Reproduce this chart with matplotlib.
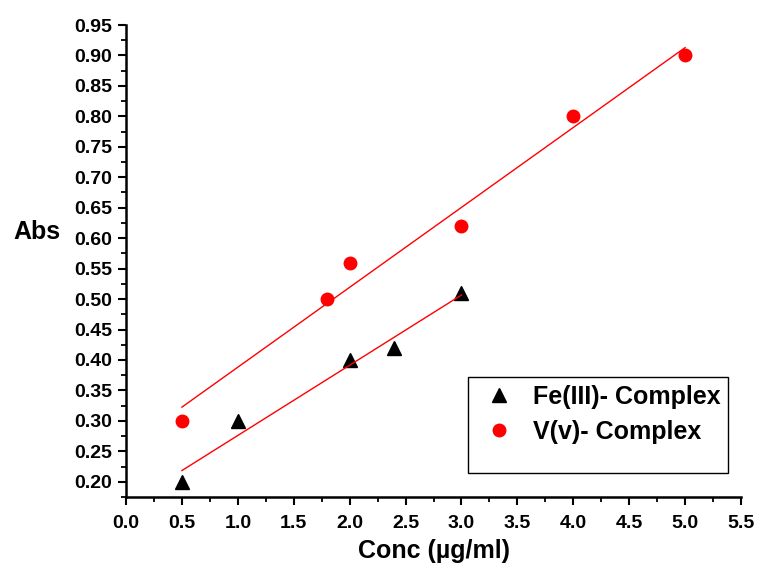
import numpy as np
import matplotlib
matplotlib.use("Agg")
import matplotlib.pyplot as plt
from matplotlib.patches import Rectangle
from matplotlib.ticker import MultipleLocator, FormatStrFormatter

fe_x = [0.5, 1.0, 2.0, 2.4, 3.0]
fe_y = [0.20, 0.30, 0.40, 0.42, 0.51]
v_x = [0.5, 1.8, 2.0, 3.0, 4.0, 5.0]
v_y = [0.30, 0.50, 0.56, 0.62, 0.80, 0.90]
fe_label = "Fe(III)- Complex"
v_label = "V(v)- Complex"
x_label = "Conc (\u00b5g/ml)"
y_label = "Abs"

plt.rcParams['font.family'] = ['Liberation Sans', 'DejaVu Sans']
plt.rcParams['font.weight'] = 'bold'

fig = plt.figure(figsize=(7.66, 5.66), dpi=100)
ax = fig.add_axes([126/766, 69/566, 615/766, 472/566])

ax.plot(fe_x, fe_y, linestyle='none', marker='^', color='black', markersize=10, label=fe_label)
ax.plot(v_x, v_y, linestyle='none', marker='o', color='#ff0000', markersize=9, label=v_label)

for xs, ys in ((fe_x, fe_y), (v_x, v_y)):
    k, b = np.polyfit(xs, ys, 1)
    xx = np.array([min(xs), max(xs)])
    ax.plot(xx, k * xx + b, color='#ff0000', linewidth=1)

ax.set_xlim(0, 5.5)
ax.set_ylim(0.175, 0.95)
ax.xaxis.set_major_locator(MultipleLocator(0.5))
ax.xaxis.set_minor_locator(MultipleLocator(0.25))
ax.yaxis.set_major_locator(MultipleLocator(0.05))
ax.yaxis.set_minor_locator(MultipleLocator(0.025))
ax.xaxis.set_major_formatter(FormatStrFormatter('%.1f'))
ax.yaxis.set_major_formatter(FormatStrFormatter('%.2f'))
ax.set_yticks(np.arange(0.20, 0.951, 0.05))

for s in ('top', 'right'):
    ax.spines[s].set_visible(False)
for s in ('left', 'bottom'):
    ax.spines[s].set_linewidth(1.8)

ax.tick_params(which='major', direction='out', length=6, width=1.5, labelsize=14, pad=4)
ax.tick_params(axis='x', which='major', pad=7)
ax.tick_params(which='minor', direction='out', length=3.5, width=1.3)
for lab in ax.get_xticklabels() + ax.get_yticklabels():
    lab.set_fontweight('bold')

ax.set_xlabel(x_label, fontsize=18, fontweight='bold', labelpad=5)
ax.set_ylabel(y_label, fontsize=18, fontweight='bold', rotation=0, labelpad=0)
ax.yaxis.set_label_coords(-0.145, 0.535)

ax.add_patch(Rectangle((0.556, 0.051), 0.423, 0.203, transform=ax.transAxes,
                       fill=False, edgecolor='black', linewidth=1, clip_on=False))
ax.legend(loc='upper left', bbox_to_anchor=(0.556, 0.254), frameon=False,
          prop={'size': 18, 'weight': 'bold'}, handletextpad=0.4, borderpad=0.3,
          borderaxespad=0, labelspacing=0.45, handlelength=1.9)

fig.savefig("out.png", dpi=100)
